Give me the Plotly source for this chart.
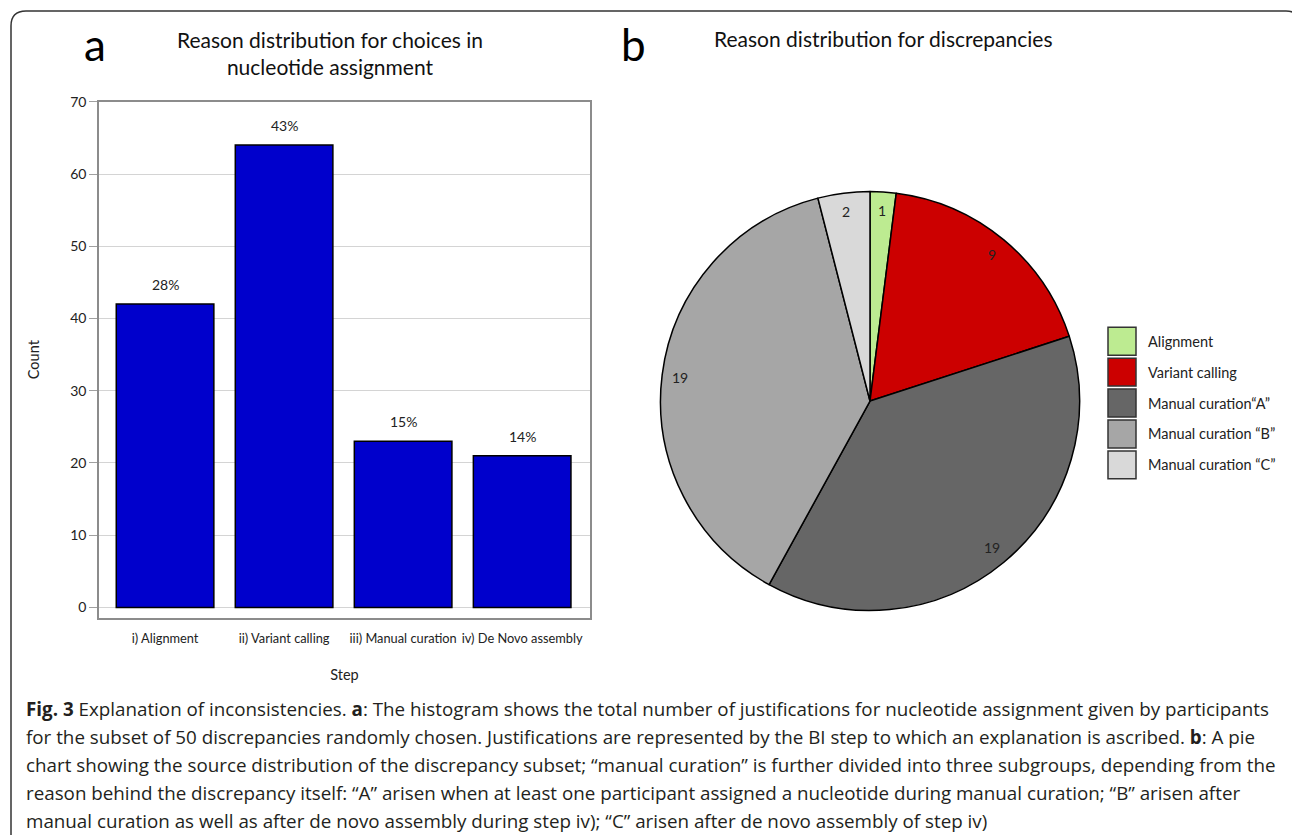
import math
import plotly.graph_objects as go

# ---------------- data ----------------
steps = ["i) Alignment", "ii) Variant calling", "iii) Manual curation", "iv) De Novo assembly"]
counts = [42, 64, 23, 21]

pie_labels = ["Alignment", "Variant calling", "Manual curation\u201cA\u201d",
              "Manual curation \u201cB\u201d", "Manual curation \u201cC\u201d"]
pie_values = [1, 9, 19, 19, 2]
pie_colors = ["#BDEB91", "#CC0000", "#666666", "#A6A6A6", "#D9D9D9"]

caption_lines = [
    "<b>Fig. 3</b> Explanation of inconsistencies. <b>a</b>: The histogram shows the total number of justifications for nucleotide assignment given by participants",
    "for the subset of 50 discrepancies randomly chosen. Justifications are represented by the BI step to which an explanation is ascribed. <b>b</b>: A pie",
    "chart showing the source distribution of the discrepancy subset; \u201cmanual curation\u201d is further divided into three subgroups, depending from the",
    "reason behind the discrepancy itself: \u201cA\u201d arisen when at least one participant assigned a nucleotide during manual curation; \u201cB\u201d arisen after",
    "manual curation as well as after de novo assembly during step iv); \u201cC\u201d arisen after de novo assembly of step iv)",
]

W, H = 1292, 835
FONT = "Lato"
Y_OFF, H_EFF = 7, 828   # page offset / effective drawn height observed in the viewer


def px(x):
    return x / W


def py(y):
    return 1 - (y - Y_OFF) / H_EFF


fig = go.Figure()

# ---------------- bar chart ----------------
total = sum(counts)
fig.add_trace(go.Bar(
    x=steps, y=counts,
    marker=dict(color="#0000CC", line=dict(color="#000000", width=1.5)),
    xaxis="x", yaxis="y", showlegend=False, hoverinfo="x+y",
))

annotations = []
for s, c in zip(steps, counts):
    annotations.append(dict(
        x=s, y=c, xref="x", yref="y", text=f"{round(c / total * 100)}%",
        showarrow=False, yanchor="bottom", yshift=9,
        font=dict(family=FONT, size=14, color="#222"),
    ))

# ---------------- pie chart ----------------
pie_cx, pie_cy, pie_r = 870, 400, 210
fig.add_trace(go.Pie(
    labels=pie_labels, values=pie_values, sort=False, direction="clockwise",
    rotation=0, marker=dict(colors=pie_colors, line=dict(color="#000000", width=1.5)),
    textinfo="none", showlegend=False,
    domain=dict(x=[px(pie_cx - pie_r), px(pie_cx + pie_r)],
                y=[py(pie_cy + pie_r), py(pie_cy - pie_r)]),
))

pie_total = sum(pie_values)
cum = 0
for v in pie_values:
    mid = (cum + v / 2) / pie_total * 2 * math.pi
    cum += v
    rr = 0.91 * pie_r
    lx = pie_cx + rr * math.sin(mid)
    ly = pie_cy - rr * math.cos(mid)
    annotations.append(dict(
        x=px(lx), y=py(ly), xref="paper", yref="paper", text=str(v),
        showarrow=False, font=dict(family=FONT, size=14, color="#222"),
        xanchor="center", yanchor="middle",
    ))

# custom legend
shapes = []
for i, (lab, col) in enumerate(zip(pie_labels, pie_colors)):
    top = 326 + 31 * i
    shapes.append(dict(type="rect", xref="paper", yref="paper",
                       x0=px(1108), x1=px(1136), y0=py(top + 28), y1=py(top),
                       fillcolor=col, line=dict(color="#333333", width=1.5)))
    annotations.append(dict(x=px(1146), y=py(top + 14), xref="paper", yref="paper",
                            text=lab, showarrow=False, xanchor="left", yanchor="middle",
                            font=dict(family=FONT, size=14.5, color="#222")))

# ---------------- titles ----------------
annotations += [
    dict(x=px(95), y=py(42), xref="paper", yref="paper", text="a", showarrow=False,
         font=dict(family=FONT, size=44, color="#000"), xanchor="center", yanchor="middle"),
    dict(x=px(633), y=py(42), xref="paper", yref="paper", text="b", showarrow=False,
         font=dict(family=FONT, size=44, color="#000"), xanchor="center", yanchor="middle"),
    dict(x=px(330), y=py(51), xref="paper", yref="paper",
         text="Reason distribution for choices in<br>nucleotide assignment", showarrow=False,
         font=dict(family=FONT, size=21, color="#111"), xanchor="center", yanchor="middle"),
    dict(x=px(883), y=py(37), xref="paper", yref="paper",
         text="Reason distribution for discrepancies", showarrow=False,
         font=dict(family=FONT, size=21, color="#111"), xanchor="center", yanchor="middle"),
]

# caption
for i, line in enumerate(caption_lines):
    annotations.append(dict(x=px(24), y=py(709 + 28 * i), xref="paper", yref="paper",
                            text=line, showarrow=False, xanchor="left", yanchor="middle",
                            align="left",
                            font=dict(family="Open Sans", size=18.8, color="#231F20")))

# frame
frame_path = (
    f"M {px(11)},{py(845)} L {px(11)},{py(24)} Q {px(11)},{py(9)} {px(26)},{py(9)} "
    f"L {px(1286)},{py(9)} Q {px(1300)},{py(9)} {px(1300)},{py(23)} L {px(1300)},{py(845)}"
)
shapes.append(dict(type="path", xref="paper", yref="paper", path=frame_path,
                   line=dict(color="#333333", width=1.5)))

fig.update_layout(
    width=W, height=H, autosize=False,
    margin=dict(l=0, r=0, t=0, b=0),
    paper_bgcolor="white", plot_bgcolor="white",
    bargap=0.18,
    font=dict(family=FONT, size=13, color="#222"),
    xaxis=dict(domain=[px(99), px(590)], range=[-0.555, 3.57], showgrid=False,
               showline=True, mirror=True, linecolor="#8C8C8C", linewidth=1.5,
               ticks="", ticklabelstandoff=8, tickangle=0, tickfont=dict(size=12.8),
               title=dict(text="Step", standoff=25, font=dict(size=14.5)),
               fixedrange=True),
    yaxis=dict(domain=[py(617), py(100)], range=[-1.4, 70], dtick=10,
               showgrid=True, gridcolor="#D4D4D4", gridwidth=1,
               zeroline=True, zerolinecolor="#D4D4D4", zerolinewidth=1,
               showline=True, mirror=True, linecolor="#8C8C8C", linewidth=1.5,
               ticks="outside", ticklen=8, tickcolor="#A0A0A0", tickwidth=1,
               tickfont=dict(size=14),
               title=dict(text="Count", standoff=27, font=dict(size=14.5)),
               fixedrange=True),
    annotations=annotations,
    shapes=shapes,
)

post = "document.body.style.margin='0';"
fig.write_html("out.html", post_script=post, config={"displayModeBar": False})
